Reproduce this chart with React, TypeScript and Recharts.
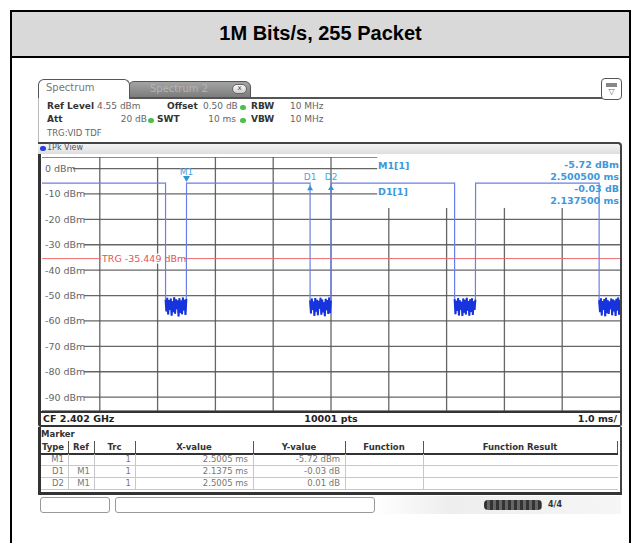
import React from "react";
import {
  LineChart,
  Line,
  XAxis,
  YAxis,
  CartesianGrid,
  ReferenceLine,
  ReferenceArea,
  ReferenceDot,
} from "recharts";

// sweep: 10 ms, 1 ms/div
const X_TICKS = [0, 1, 2, 3, 4, 5, 6, 7, 8, 9, 10];
const Y_TICKS = [0, -10, -20, -30, -40, -50, -60, -70, -80, -90];
const REF_LEVEL = 4.55;
const RANGE_DB = 100;
const TRIGGER_DBM = -35.449;
const READOUT_BOX = { x1: 5.8, y1: -15.5 }; // area kept clear for the marker readout

// packet bursts (ms) and their level (dBm)
const BURST_START = [0, 2.5005, 5.001, 7.5015];
const BURST_END = [2.1375, 4.638, 7.1385, 9.639];
const BURST_LEVEL = [-5.7, -5.72, -5.71, -5.73];

// noise floor between bursts
const GAP_STEP_MS = 0.015;
const GAP1_NOISE = [-51.6, -56.2, -50.9, -57.4, -51.8, -55.7, -51.2, -57.9, -52.3, -56.5, -50.7, -57.1, -51.5, -55.4, -51.9, -58.2, -51.1, -56.8, -52.0, -57.3, -50.8, -55.9, -51.7, -57.6, -51.3];
const GAP2_NOISE = [-51.9, -57.0, -51.2, -55.6, -52.4, -58.0, -51.0, -56.3, -51.7, -57.7, -52.1, -55.2, -50.9, -57.5, -51.6, -56.6, -52.6, -58.1, -51.3, -55.8, -51.8, -57.2, -50.8, -56.9, -52.0];
const GAP3_NOISE = [-51.4, -57.3, -52.1, -56.0, -51.0, -57.8, -51.9, -55.5, -52.5, -58.0, -51.2, -56.7, -51.7, -57.4, -50.9, -55.9, -52.2, -57.9, -51.5, -56.4, -51.1, -57.6, -52.3, -55.7, -51.6];
const GAP4_NOISE = [-51.8, -56.5, -51.1, -57.8, -52.2, -55.6, -51.4, -58.1, -50.9, -56.9, -51.9, -57.2, -52.4, -55.3, -51.2, -57.7, -51.6, -56.2, -52.0, -58.0, -51.3, -55.9, -50.8, -57.5, -51.7];
const GAPS = [GAP1_NOISE, GAP2_NOISE, GAP3_NOISE, GAP4_NOISE];

// markers
const MARKER_NAMES = ["M1", "D1", "D2"];
const MARKER_X = [2.5005, 4.638, 5.001];
const MARKER_Y = [-5.72, -5.75, -5.71];

// marker table
const TBL_TYPE = ["M1", "D1", "D2"];
const TBL_REF = ["", "M1", "M1"];
const TBL_TRC = ["1", "1", "1"];
const TBL_X = ["2.5005 ms", "2.1375 ms", "2.5005 ms"];
const TBL_Y = ["-5.72 dBm", "-0.03 dB", "0.01 dB"];

type Pt = { t: number; trace: number; noise?: number };
const traceData: Pt[] = [];
BURST_START.forEach((start, i) => {
  traceData.push({ t: start, trace: BURST_LEVEL[i] });
  traceData.push({ t: BURST_END[i], trace: BURST_LEVEL[i] });
  GAPS[i].forEach((v, j) => {
    traceData.push({ t: BURST_END[i] + j * GAP_STEP_MS, trace: v, noise: v });
  });
});

const FONT = '"DejaVu Sans", Verdana, sans-serif';
const GRID = "#555";

function T(props: {
  x: number;
  y: number;
  children: React.ReactNode;
  size?: number;
  bold?: boolean;
  color?: string;
  anchor?: "start" | "end" | "middle";
}) {
  const size = props.size ?? 9;
  const anchor = props.anchor ?? "start";
  const style: React.CSSProperties = {
    position: "absolute",
    top: props.y - size * 0.62,
    lineHeight: `${size * 1.24}px`,
    fontSize: size,
    fontWeight: props.bold ? "bold" : "normal",
    color: props.color ?? "#333",
    whiteSpace: "nowrap",
    fontFamily: FONT,
  };
  if (anchor === "start") style.left = props.x;
  if (anchor === "end") {
    style.left = props.x - 300;
    style.width = 300;
    style.textAlign = "right";
  }
  if (anchor === "middle") {
    style.left = props.x - 150;
    style.width = 300;
    style.textAlign = "center";
  }
  return <div style={style}>{props.children}</div>;
}

function Box(props: { s: React.CSSProperties }) {
  return <div style={{ position: "absolute", boxSizing: "border-box", ...props.s }} />;
}

function Dot(props: { x: number; y: number; color: string }) {
  return (
    <Box
      s={{
        left: props.x - 3,
        top: props.y - 2.5,
        width: 6,
        height: 5,
        borderRadius: 3,
        background: props.color,
      }}
    />
  );
}

const YTick = (props: any) => {
  const { x, y, payload } = props;
  const label = `${payload.value} dBm`;
  const w = label.length * 5.4 + 6;
  return (
    <g>
      <rect x={x - 5} y={y - 6} width={w} height={12} fill="#fff" />
      <text x={x} y={y + 3.5} fontSize={9.5} fill="#666" fontFamily={FONT}>
        {label}
      </text>
    </g>
  );
};

const TrgLabel = (props: any) => {
  const vb = props.viewBox || {};
  const x = (vb.x ?? 0) + 60;
  const y = vb.y ?? 0;
  return (
    <g>
      <rect x={x - 1} y={y - 5} width={83} height={10} fill="#fff" />
      <text x={x} y={y + 3.5} fontSize={9.5} fill="#e25555" fontFamily={FONT}>
        {`TRG  ${TRIGGER_DBM.toFixed(3)} dBm`}
      </text>
    </g>
  );
};

const markerShape = (name: string, down: boolean) => (p: any) => {
  const { cx, cy } = p;
  if (down) {
    return (
      <g>
        <polygon points={`${cx - 3.5},${cy - 7} ${cx + 3.5},${cy - 7} ${cx},${cy - 1}`} fill="#2f96d6" />
        <text x={cx} y={cy - 8} textAnchor="middle" fontSize={9} fill="#4aa3dc" fontFamily={FONT}>
          {name}
        </text>
      </g>
    );
  }
  return (
    <g>
      <polygon points={`${cx - 3},${cy + 7} ${cx + 3},${cy + 7} ${cx},${cy + 2}`} fill="#2f96d6" />
      <text x={cx} y={cy - 3} textAnchor="middle" fontSize={9} fill="#4aa3dc" fontFamily={FONT}>
        {name}
      </text>
    </g>
  );
};

const COLS = [38, 68, 94, 135, 253, 345, 423, 617];
const HEAD = ["Type", "Ref", "Trc", "X-value", "Y-value", "Function", "Function Result"];
const ROW_Y = [459, 471, 483];

export default function App() {
  const yMin = REF_LEVEL - RANGE_DB;
  return (
    <div
      style={{
        position: "absolute",
        left: 0,
        top: 0,
        width: 639,
        height: 543,
        background: "#fff",
        overflow: "hidden",
        fontFamily: FONT,
      }}
    >
      {/* outer frame and title */}
      <Box s={{ left: 10, top: 10, width: 621, height: 600, border: "2px solid #000" }} />
      <Box s={{ left: 10, top: 10, width: 621, height: 48, background: "#d9d9d9", border: "2px solid #000" }} />
      <div
        style={{
          position: "absolute",
          left: 10,
          top: 10,
          width: 621,
          height: 48,
          lineHeight: "46px",
          textAlign: "center",
          fontFamily: '"Liberation Sans", Arial, sans-serif',
          fontWeight: "bold",
          fontSize: 20,
          color: "#000",
        }}
      >
        1M Bits/s, 255 Packet
      </div>

      {/* tabs */}
      <Box
        s={{
          left: 128,
          top: 81,
          width: 123,
          height: 17,
          background: "linear-gradient(#a4a4a4, #7c7c7c)",
          border: "1px solid #555",
          borderRadius: "6px 6px 0 0",
        }}
      />
      <T x={150} y={89} size={10} color="#b4b4b4">Spectrum 2</T>
      <Box s={{ left: 232, top: 84, width: 15, height: 10, borderRadius: 5, background: "linear-gradient(#fafafa,#cfcfcf)", border: "1px solid #666" }} />
      <T x={239.5} y={88.8} size={7} color="#444" anchor="middle">x</T>
      <Box
        s={{
          left: 38,
          top: 79,
          width: 92,
          height: 20,
          background: "#fff",
          border: "1.5px solid #555",
          borderBottom: "none",
          borderRadius: "6px 6px 0 0",
        }}
      />
      <T x={46} y={88} size={10} color="#777">Spectrum</T>
      <Box s={{ left: 129, top: 97, width: 474, height: 2, background: "#555" }} />
      <Box s={{ left: 38, top: 98, width: 1, height: 45, background: "#bbb" }} />
      {/* icon */}
      <Box s={{ left: 601, top: 78, width: 21, height: 22, border: "1.5px solid #555", borderRadius: 4, background: "#fff" }} />
      <Box s={{ left: 606, top: 83, width: 11, height: 4, background: "#888" }} />
      <T x={611.5} y={92} size={8} color="#666" anchor="middle">▽</T>

      {/* settings */}
      <T x={47} y={107} bold>Ref Level</T>
      <T x={97} y={107} color="#666">4.55 dBm</T>
      <T x={167} y={107} bold>Offset</T>
      <T x={203} y={107} color="#666">0.50 dB</T>
      <Dot x={243} y={107} color="#4cc04c" />
      <T x={251} y={107} bold>RBW</T>
      <T x={290} y={107} color="#666">10 MHz</T>
      <T x={47} y={120} bold>Att</T>
      <T x={147} y={120} color="#666" anchor="end">20 dB</T>
      <Dot x={151} y={120} color="#4cc04c" />
      <T x={157} y={120} bold>SWT</T>
      <T x={236} y={120} color="#666" anchor="end">10 ms</T>
      <Dot x={243} y={120} color="#4cc04c" />
      <T x={251} y={120} bold>VBW</T>
      <T x={290} y={120} color="#666">10 MHz</T>
      <T x={47} y={133} color="#666" size={8.5}>TRG:VID TDF</T>

      {/* 1Pk View bar */}
      <Box
        s={{
          left: 38,
          top: 142,
          width: 584,
          height: 12,
          background: "linear-gradient(#f4f4f4, #dedede)",
          borderTop: "2px solid #444",
          borderRight: "2px solid #444",
          borderRadius: "0 4px 0 0",
        }}
      />
      <Dot x={43} y={148} color="#2a3fd6" />
      <T x={47} y={148} size={8} color="#555">1Pk View</T>

      {/* plot frame */}
      <Box s={{ left: 38, top: 154, width: 584, height: 273, borderLeft: "3px solid #333", borderRight: "2px solid #444", borderBottom: "2px solid #333", borderRadius: "0 0 3px 3px" }} />
      <Box s={{ left: 40, top: 411, width: 581, height: 1.5, background: "#333" }} />

      <div style={{ position: "absolute", left: 42, top: 157, width: 578, height: 254 }}>
        <LineChart width={578} height={254} data={traceData} margin={{ top: 0, right: 0, bottom: 0, left: 0 }}>
          <CartesianGrid stroke={GRID} strokeWidth={1.3} strokeOpacity={0.9} vertical={false} />
          <XAxis
            dataKey="t"
            type="number"
            domain={[0, 10]}
            ticks={X_TICKS}
            allowDataOverflow
            height={0}
            tick={false}
            axisLine={false}
            tickLine={false}
          />
          <YAxis
            type="number"
            domain={[yMin, REF_LEVEL]}
            ticks={Y_TICKS}
            allowDataOverflow
            mirror
            tickSize={0}
            tickMargin={3}
            axisLine={false}
            tickLine={false}
            tick={<YTick />}
          />
          {/* marker info box */}
          <ReferenceArea x1={READOUT_BOX.x1} x2={10} y1={READOUT_BOX.y1} y2={REF_LEVEL} fill="#fff" fillOpacity={1} stroke="none" />
          {X_TICKS.slice(1, -1).map((t) => (
            <ReferenceLine
              key={`vx${t}`}
              segment={[
                { x: t, y: yMin },
                { x: t, y: t > READOUT_BOX.x1 ? READOUT_BOX.y1 : REF_LEVEL },
              ]}
              stroke={GRID}
              strokeWidth={1.3}
              strokeOpacity={0.9}
            />
          ))}
          <ReferenceLine y={TRIGGER_DBM} stroke="#ee6a6a" strokeWidth={1} label={<TrgLabel />} />
          <Line type="linear" dataKey="trace" stroke="#6c7fe8" strokeWidth={1.2} dot={false} isAnimationActive={false} />
          <Line type="linear" dataKey="noise" stroke="#1733dc" strokeWidth={2} dot={false} isAnimationActive={false} />
          {MARKER_NAMES.map((n, i) => (
            <ReferenceDot key={n} x={MARKER_X[i]} y={MARKER_Y[i]} r={3} shape={markerShape(n, i === 0)} />
          ))}
        </LineChart>
      </div>

      {/* marker readout */}
      <T x={378} y={166} bold size={9.5} color="#3d98da">M1[1]</T>
      <T x={378} y={192} bold size={9.5} color="#3d98da">D1[1]</T>
      <T x={619} y={165} bold size={9.5} color="#3d98da" anchor="end">-5.72 dBm</T>
      <T x={619} y={177} bold size={9.5} color="#3d98da" anchor="end">2.500500 ms</T>
      <T x={619} y={189} bold size={9.5} color="#3d98da" anchor="end">-0.03 dB</T>
      <T x={619} y={201} bold size={9.5} color="#3d98da" anchor="end">2.137500 ms</T>

      {/* footer */}
      <T x={43} y={419} bold size={9.5} color="#222">CF 2.402 GHz</T>
      <T x={331} y={419} bold size={9.5} color="#222" anchor="middle">10001 pts</T>
      <T x={617} y={419} bold size={9.5} color="#222" anchor="end">1.0 ms/</T>

      {/* marker table */}
      <Box s={{ left: 38, top: 427, width: 584, height: 68, borderLeft: "3px solid #333", borderRight: "2px solid #444", borderBottom: "3px solid #333" }} />
      <T x={41} y={434} bold size={8.5} color="#333">Marker</T>
      {HEAD.map((h, i) => (
        <T key={h} x={(COLS[i] + COLS[i + 1]) / 2} y={447} bold size={8.5} color="#333" anchor="middle">
          {h}
        </T>
      ))}
      {COLS.slice(1).map((x) => (
        <Box key={`hd${x}`} s={{ left: x, top: 441, width: 1, height: 12, background: "#555" }} />
      ))}
      <Box s={{ left: 41, top: 453, width: 577, height: 1.5, background: "#333" }} />
      {ROW_Y.map((y) => (
        <Box key={`r${y}`} s={{ left: 41, top: y + 6, width: 577, height: 1, background: "#c8c8c8" }} />
      ))}
      {COLS.slice(1, 7).map((x) => (
        <Box key={`vd${x}`} s={{ left: x, top: 454, width: 1, height: 35, background: "#c8c8c8" }} />
      ))}
      {ROW_Y.map((y, r) => (
        <React.Fragment key={`row${r}`}>
          <T x={COLS[1] - 4} y={y} size={8.5} color="#777" anchor="end">{TBL_TYPE[r]}</T>
          <T x={COLS[2] - 4} y={y} size={8.5} color="#777" anchor="end">{TBL_REF[r]}</T>
          <T x={COLS[3] - 4} y={y} size={8.5} color="#777" anchor="end">{TBL_TRC[r]}</T>
          <T x={COLS[4] - 5} y={y} size={8.5} color="#777" anchor="end">{TBL_X[r]}</T>
          <T x={COLS[5] - 5} y={y} size={8.5} color="#777" anchor="end">{TBL_Y[r]}</T>
        </React.Fragment>
      ))}

      {/* status bar */}
      <Box s={{ left: 375, top: 496, width: 246, height: 18, background: "linear-gradient(90deg, #fff, #eee 30%, #f6f6f6)" }} />
      <Box s={{ left: 40, top: 497, width: 70, height: 16, border: "1px solid #999", borderRadius: 3, background: "#fff" }} />
      <Box s={{ left: 115, top: 497, width: 260, height: 16, border: "1px solid #999", borderRadius: 3, background: "#fff" }} />
      <Box s={{ left: 484, top: 500, width: 58, height: 10, borderRadius: 4, background: "repeating-linear-gradient(90deg, #333 0 3px, #666 3px 6px)" }} />
      <T x={548} y={505} bold size={8} color="#333">4/4</T>
    </div>
  );
}
